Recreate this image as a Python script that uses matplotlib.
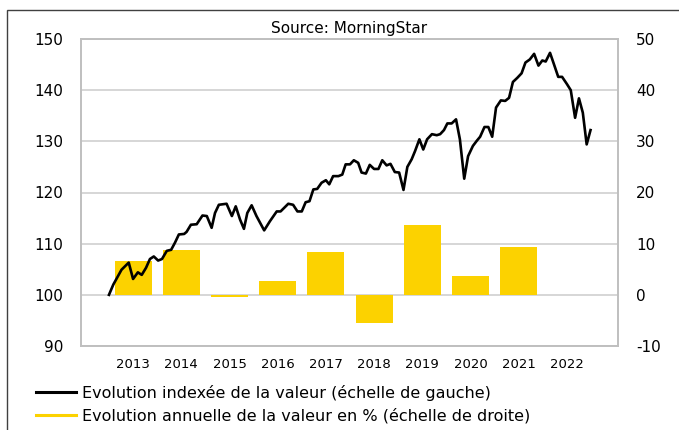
import matplotlib
matplotlib.use("Agg")
import matplotlib.pyplot as plt
from matplotlib.lines import Line2D
from matplotlib.patches import Rectangle

plt.rcParams["axes.unicode_minus"] = False

# ---- data ----
years = [2013, 2014, 2015, 2016, 2017, 2018, 2019, 2020, 2021, 2022]
annual_pct = [6.7, 8.8, -0.5, 2.8, 8.3, -5.6, 13.7, 3.7, 9.4, 0.0]

line_t = [2013.00, 2013.09, 2013.26, 2013.41, 2013.50, 2013.60, 2013.68, 2013.77, 2013.85, 2013.93,
          2014.02, 2014.10, 2014.20, 2014.29, 2014.37, 2014.45, 2014.56, 2014.61, 2014.70, 2014.82,
          2014.94, 2015.03, 2015.13, 2015.20, 2015.28, 2015.44, 2015.55, 2015.63, 2015.72, 2015.80,
          2015.87, 2015.96, 2016.06, 2016.22, 2016.34, 2016.48, 2016.56, 2016.72, 2016.82, 2016.91,
          2017.00, 2017.08, 2017.16, 2017.24, 2017.32, 2017.41, 2017.50, 2017.57, 2017.65, 2017.76,
          2017.84, 2017.91, 2018.00, 2018.08, 2018.17, 2018.24, 2018.33, 2018.41, 2018.50, 2018.59,
          2018.67, 2018.76, 2018.84, 2018.93, 2019.02, 2019.11, 2019.19, 2019.28, 2019.35, 2019.44,
          2019.52, 2019.60, 2019.70, 2019.80, 2019.87, 2019.95, 2020.02, 2020.11, 2020.20, 2020.28,
          2020.37, 2020.45, 2020.55, 2020.63, 2020.70, 2020.79, 2020.87, 2020.95, 2021.03, 2021.13,
          2021.22, 2021.30, 2021.38, 2021.47, 2021.56, 2021.64, 2021.73, 2021.82, 2021.91, 2021.99,
          2022.06, 2022.15, 2022.23, 2022.32, 2022.40, 2022.50, 2022.58, 2022.67, 2022.75, 2022.83,
          2022.91, 2022.99]
line_v = [100.0, 102.0, 104.9, 106.3, 103.1, 104.4, 103.9, 105.3, 107.0, 107.5,
          106.7, 107.0, 108.6, 108.8, 110.2, 111.8, 111.9, 112.3, 113.7, 113.8,
          115.5, 115.4, 113.1, 116.0, 117.6, 117.8, 115.4, 117.3, 114.7, 112.9,
          116.0, 117.5, 115.4, 112.6, 114.4, 116.3, 116.3, 117.8, 117.6, 116.3,
          116.3, 118.1, 118.3, 120.6, 120.7, 121.9, 122.4, 121.6, 123.2, 123.2,
          123.5, 125.5, 125.5, 126.3, 125.8, 123.9, 123.7, 125.4, 124.6, 124.6,
          126.3, 125.3, 125.6, 124.0, 123.9, 120.5, 125.0, 126.5, 128.1, 130.4,
          128.4, 130.4, 131.4, 131.2, 131.4, 132.2, 133.5, 133.5, 134.3, 130.4,
          122.7, 127.1, 129.1, 130.1, 130.9, 132.8, 132.8, 130.9, 136.6, 138.0,
          137.9, 138.5, 141.6, 142.4, 143.3, 145.4, 146.0, 147.1, 144.8, 145.8,
          145.6, 147.3, 145.1, 142.6, 142.6, 141.2, 140.0, 134.6, 138.4, 135.6,
          129.4, 132.2]

year_labels = [str(y) for y in years]
left_ticks = [90, 100, 110, 120, 130, 140, 150]
right_ticks = [-10, 0, 10, 20, 30, 40, 50]

label_line = "Evolution indexée de la valeur (échelle de gauche)"
label_bars = "Evolution annuelle de la valeur en % (échelle de droite)"
title = "Source: MorningStar"

# ---- styling ----
BAR_COLOR = "#FCD200"
GRID_COLOR = "#D0D0D0"
SPINE_COLOR = "#BFBFBF"

fig = plt.figure(figsize=(6.79, 4.30), dpi=100)
ax_l = fig.add_axes([81 / 679, 1 - 346 / 430, (618 - 81) / 679, (346 - 39) / 430])
ax_r = ax_l.twinx()

# bars (right axis)
bar_x = [y + 0.5 for y in years]
ax_r.bar(bar_x, annual_pct, width=0.77, color=BAR_COLOR, zorder=2)
ax_r.set_ylim(-10, 50)
ax_r.set_yticks(right_ticks)
ax_r.yaxis.grid(True, color=GRID_COLOR, linewidth=1.2)
ax_r.set_axisbelow(True)

# line (left axis, on top)
ax_l.plot(line_t, line_v, color="black", linewidth=1.9, zorder=3)
ax_l.set_ylim(90, 150)
ax_l.set_yticks(left_ticks)
ax_l.set_xlim(2012.42, 2023.56)
ax_l.set_xticks(bar_x)
ax_l.set_xticklabels(year_labels)
ax_l.set_zorder(ax_r.get_zorder() + 1)
ax_l.patch.set_visible(False)

for a in (ax_l, ax_r):
    for s in a.spines.values():
        s.set_color(SPINE_COLOR)
        s.set_linewidth(1.2)
    a.tick_params(axis="y", length=0, labelsize=11, pad=13)
ax_l.tick_params(axis="x", length=0, labelsize=9.5, pad=9)

ax_l.set_title(title, fontsize=11, pad=4)

handles = [Line2D([], [], color="black", linewidth=2.2),
           Line2D([], [], color=BAR_COLOR, linewidth=2.2)]
fig.legend(handles, [label_line, label_bars], loc="upper left",
           bbox_to_anchor=(36 / 679, 1 - 385 / 430), frameon=False,
           fontsize=11.5, borderaxespad=0, borderpad=0, handlelength=2.5,
           handletextpad=0.4, labelspacing=0.42)

# outer frame
fig.patches.append(Rectangle((7 / 679, -0.1), 1.2, 1.1 - 10 / 430,
                             transform=fig.transFigure, fill=False,
                             edgecolor="#404040", linewidth=1.0))

fig.savefig("out.png", dpi=100)
